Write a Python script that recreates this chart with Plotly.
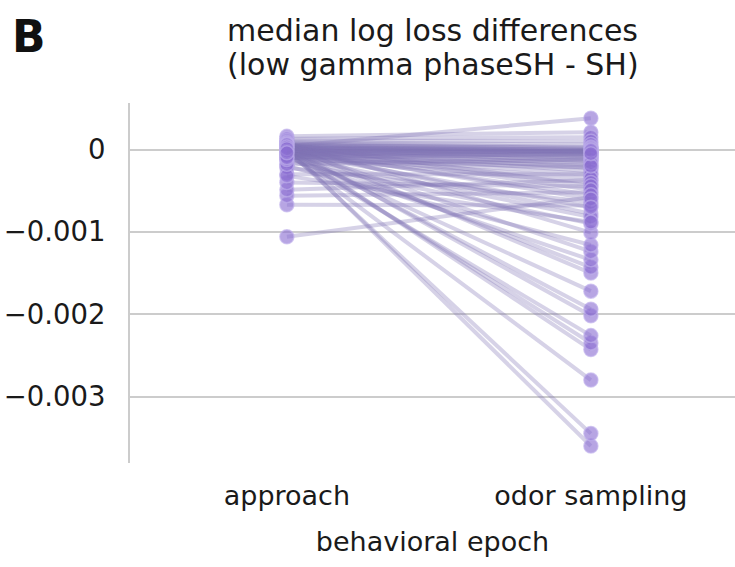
import plotly.graph_objects as go

# Per-neuron median log-loss differences (low gamma phaseSH - SH)
epochs = ["approach", "odor sampling"]

approach = [
    # large drops during odor sampling
    0.00003, 0.00000, -0.00004, 0.00002, -0.00001, -0.00006, 0.00004, 0.00001,
    -0.00003, 0.00006, 0.00000, -0.00010, 0.00002, -0.00020, 0.00008, -0.00014,
    0.00000, -0.00008,
    # negative during approach
    -0.00106, -0.00067, -0.00056, -0.00049, -0.00040, -0.00030, -0.00022,
    -0.00032, -0.00018, -0.00012,
    # near zero in both epochs
    0.00004, 0.00016, 0.00013, 0.00011, 0.00009, 0.00008, 0.00007, 0.00006,
    0.00005, 0.00005, 0.00004, 0.00003, 0.00003, 0.00002, 0.00002, 0.00001,
    0.00001, 0.00000, 0.00000, -0.00001, -0.00001, -0.00002, -0.00002, -0.00003,
    -0.00003, -0.00004, -0.00005, -0.00005, -0.00006, -0.00007, -0.00008,
    -0.00009, -0.00010, 0.00006, 0.00003, -0.00002, 0.00001, -0.00004,
]

odor_sampling = [
    -0.00360, -0.00345, -0.00280, -0.00243, -0.00235, -0.00226, -0.00202, -0.00194,
    -0.00172, -0.00150, -0.00143, -0.00134, -0.00124, -0.00116, -0.00101, -0.00090,
    -0.00078, -0.00082,
    -0.00058, -0.00068, -0.00052, -0.00037, -0.00045, -0.00030, -0.00064,
    -0.00088, -0.00012, -0.00022,
    0.00038, 0.00021, 0.00015, 0.00010, 0.00006, 0.00003, 0.00001, -0.00001,
    -0.00003, 0.00002, -0.00005, -0.00002, -0.00008, 0.00000, -0.00004, -0.00011,
    -0.00006, -0.00002, -0.00014, -0.00009, -0.00018, -0.00003, -0.00022, -0.00012,
    -0.00026, -0.00007, -0.00030, -0.00016, -0.00001, -0.00035, -0.00020,
    -0.00040, -0.00005, -0.00044, -0.00049, -0.00055, -0.00060, -0.00070,
]

y_tickvals = [0, -0.001, -0.002, -0.003]
y_ticktext = ["0", "\u22120.001", "\u22120.002", "\u22120.003"]

title_lines = ["median log loss differences", "(low gamma phaseSH - SH)"]

FONT = "DejaVu Sans, Verdana, sans-serif"
TEXT = "#1a1a1a"
LINE_COLOR = "rgba(129, 114, 179, 0.32)"
MARKER_FILL = "rgba(138, 110, 210, 0.62)"
MARKER_EDGE = "rgba(190, 175, 235, 0.65)"

W, H = 735, 567
M_L, M_R, M_T, M_B = 130, 0, 103, 104
PLOT_H = H - M_T - M_B
PLOT_W = W - M_L - M_R


def paper_y(px):
    """Convert a pixel row (from the top of the page) to paper y."""
    return (H - M_B - px) / PLOT_H


def paper_x(px):
    return (px - M_L) / PLOT_W


fig = go.Figure()
for a, o in zip(approach, odor_sampling):
    fig.add_trace(go.Scatter(
        x=[0, 1], y=[a, o], mode="lines+markers",
        line=dict(color=LINE_COLOR, width=4),
        marker=dict(size=14, color=MARKER_FILL,
                    line=dict(color=MARKER_EDGE, width=1.5)),
        showlegend=False, hoverinfo="y",
    ))

fig.update_layout(
    width=W, height=H,
    margin=dict(l=M_L, r=M_R, t=M_T, b=M_B),
    paper_bgcolor="white", plot_bgcolor="white",
    font=dict(family=FONT, color=TEXT, size=27),
    xaxis=dict(
        range=[-0.516, 1.474], tickvals=[0, 1], ticktext=epochs,
        showgrid=False, zeroline=False, showline=False, ticks="",
        tickfont=dict(size=27), ticklabelstandoff=14,
        title=dict(text="behavioral epoch", font=dict(size=27), standoff=22),
    ),
    yaxis=dict(
        range=[-0.003807, 0.000565], tickvals=y_tickvals, ticktext=y_ticktext,
        showgrid=True, gridcolor="#cccccc", gridwidth=1.5,
        zeroline=False, showline=True, linecolor="#cccccc", linewidth=2,
        ticks="", ticklabelstandoff=17, tickfont=dict(size=27.5),
    ),
)

# two-line title, each line placed on its own row
for text, row in zip(title_lines, [30, 65]):
    fig.add_annotation(
        text=text, xref="paper", yref="paper", x=0.5, y=paper_y(row),
        xanchor="center", yanchor="middle", showarrow=False,
        font=dict(size=30, family=FONT, color=TEXT),
    )

# panel letter
fig.add_annotation(
    text="<b>B</b>", xref="paper", yref="paper", x=paper_x(10), y=paper_y(36),
    xanchor="left", yanchor="middle", showarrow=False,
    font=dict(size=44, family=FONT, color="#111111"),
)

fig.write_html("out.html")
